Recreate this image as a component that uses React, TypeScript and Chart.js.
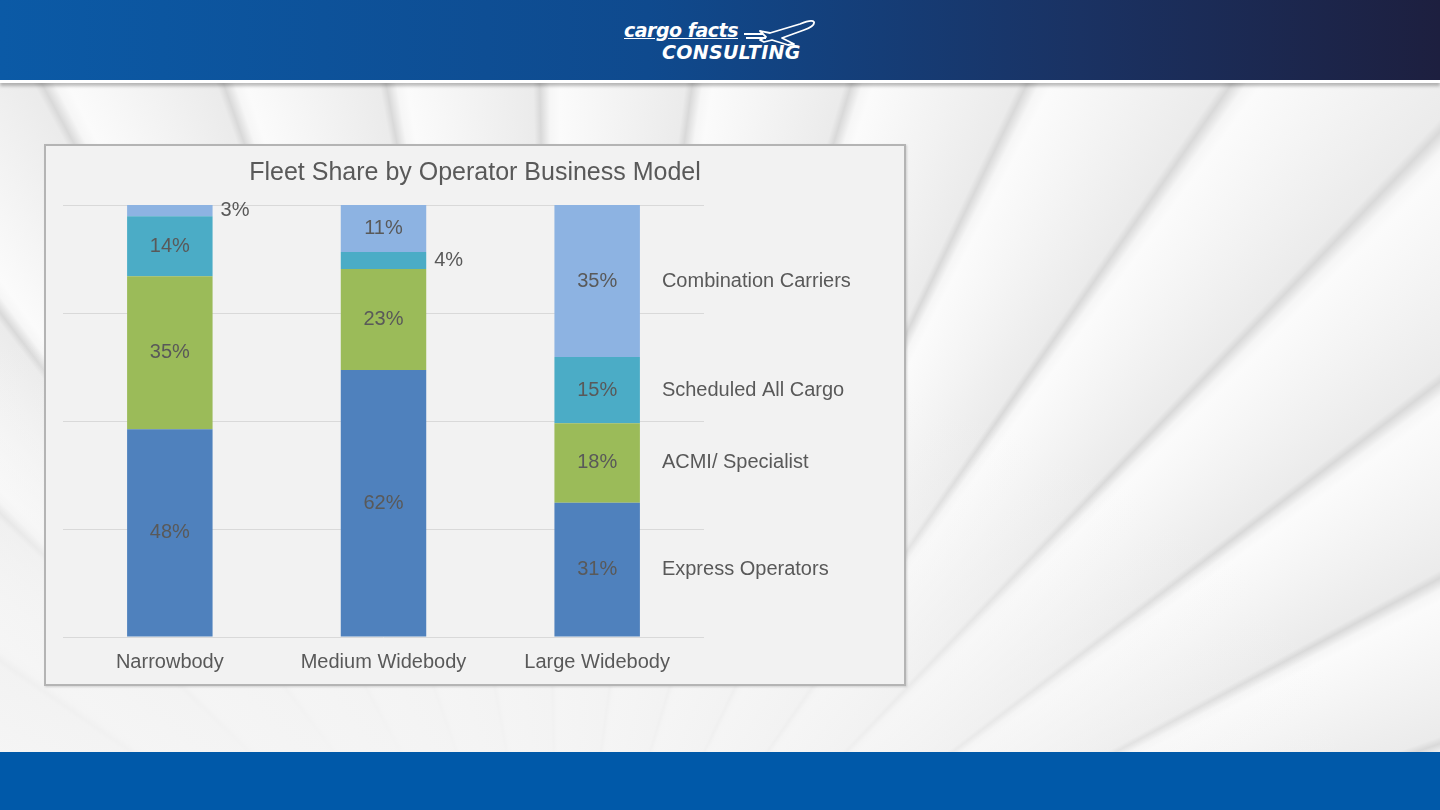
import React, { useEffect, useRef } from "react";
import { Chart, registerables } from "chart.js";

Chart.register(...registerables);

const categories = ["Narrowbody", "Medium Widebody", "Large Widebody"];
const seriesNames = ["Express Operators", "ACMI/ Specialist", "Scheduled All Cargo", "Combination Carriers"];
const expressOperators = [48.1, 61.8, 31.1];
const acmiSpecialist = [35.4, 23.4, 18.4];
const scheduledAllCargo = [13.9, 3.9, 15.3];
const combinationCarriers = [2.6, 10.9, 35.2];
const seriesColors = ["#4f81bd", "#9bbb59", "#4bacc6", "#8db3e2"];
const yTicks = [0, 25, 50, 75, 100];
const chartTitle = "Fleet Share by Operator Business Model";

const TEXT = "#595959";
const FONT = "'Liberation Sans', Arial, sans-serif";

const labelPlugin = {
  id: "segLabels",
  afterDatasetsDraw(chart: any) {
    const ctx = chart.ctx;
    ctx.save();
    ctx.fillStyle = TEXT;
    ctx.textBaseline = "middle";
    // title, centred on the whole chart box
    ctx.font = `25px ${FONT}`;
    ctx.textAlign = "center";
    ctx.fillText(chartTitle, chart.width / 2, 27);
    ctx.font = `20px ${FONT}`;
    const last = chart.data.labels.length - 1;
    chart.data.datasets.forEach((ds: any, di: number) => {
      const meta = chart.getDatasetMeta(di);
      meta.data.forEach((bar: any, i: number) => {
        const v = ds.data[i];
        const cy = (bar.y + bar.base) / 2;
        const txt = Math.round(v) + "%";
        if (v < 6) {
          ctx.textAlign = "left";
          ctx.fillText(txt, bar.x + bar.width / 2 + 8, cy);
        } else {
          ctx.textAlign = "center";
          ctx.fillText(txt, bar.x, cy);
        }
        if (i === last) {
          ctx.textAlign = "left";
          ctx.fillText(ds.label, bar.x + bar.width / 2 + 22, cy);
        }
      });
    });
    ctx.restore();
  },
};

function FleetChart() {
  const ref = useRef<HTMLCanvasElement | null>(null);
  useEffect(() => {
    if (!ref.current) return;
    const values = [expressOperators, acmiSpecialist, scheduledAllCargo, combinationCarriers];
    const chart = new Chart(ref.current, {
      type: "bar",
      data: {
        labels: categories,
        datasets: values.map((d, i) => ({
          label: seriesNames[i],
          data: d,
          backgroundColor: seriesColors[i],
          borderWidth: 0,
          barPercentage: 0.4,
          categoryPercentage: 1,
        })),
      },
      options: {
        responsive: false,
        animation: false,
        maintainAspectRatio: false,
        layout: { padding: { left: 17, right: 200, top: 59, bottom: -3 } },
        plugins: {
          legend: { display: false },
          tooltip: { enabled: false },
          title: { display: false },
        },
        scales: {
          x: {
            stacked: true,
            grid: { display: false, drawTicks: false },
            border: { display: false },
            ticks: { color: TEXT, font: { family: FONT, size: 20 }, padding: 13 },
          },
          y: {
            stacked: true,
            min: 0,
            max: 100,
            afterBuildTicks: (axis: any) => {
              axis.ticks = yTicks.map((v) => ({ value: v }));
            },
            grid: { color: "#d9d9d9", lineWidth: 1, drawTicks: false },
            border: { display: false },
            ticks: { display: false },
          },
        },
      },
      plugins: [labelPlugin],
    });
    return () => chart.destroy();
  }, []);
  return <canvas ref={ref} width={858} height={538} style={{ display: "block", width: 858, height: 538 }} />;
}

export default function App() {
  return (
    <div
      style={{
        position: "fixed",
        left: 0,
        top: 0,
        width: 1440,
        height: 810,
        overflow: "hidden",
        fontFamily: FONT,
        background:
          "repeating-conic-gradient(from -90deg at 560px 1050px, #fbfbfb 0deg, #ebebeb 7.4deg, #d9d9d9 7.8deg, #f6f6f6 8.4deg, #fbfbfb 9deg)",
      }}
    >
      <div
        style={{
          position: "absolute",
          inset: 0,
          background:
            "radial-gradient(ellipse 1000px 480px at 360px 790px, rgba(244,244,244,1) 0%, rgba(244,244,244,0.8) 50%, rgba(244,244,244,0) 100%)",
        }}
      />
      {/* header */}
      <div
        style={{
          position: "absolute",
          left: 0,
          top: 0,
          width: 1440,
          height: 80,
          background: "linear-gradient(90deg, #0b5aa6 0%, #0f4a8e 45%, #1a3263 75%, #1d1f3f 100%)",
          borderBottom: "3px solid #ffffff",
          boxShadow: "0 3px 3px rgba(0,0,0,0.25)",
        }}
      >
        <div
          style={{
            position: "absolute",
            left: 624,
            top: 19,
            color: "#fff",
            fontFamily: "'DejaVu Sans', sans-serif",
            fontStyle: "italic",
            fontWeight: "bold",
            fontSize: 19,
            lineHeight: "22px",
            textDecoration: "underline",
            letterSpacing: -0.5,
          }}
        >
          cargo facts
        </div>
        <div
          style={{
            position: "absolute",
            left: 662,
            top: 41,
            color: "#fff",
            fontFamily: "'DejaVu Sans', sans-serif",
            fontStyle: "italic",
            fontWeight: "bold",
            fontSize: 19,
            lineHeight: "22px",
            letterSpacing: 0.3,
          }}
        >
          CONSULTING
        </div>
        <svg
          style={{ position: "absolute", left: 742, top: 18 }}
          width={76}
          height={30}
          viewBox="0 0 76 30"
        >
          <path
            d="M2 16 L20 16 M4 20 L24 20 M18 13 L28 15 L58 6 Q70 1 72 4 Q73 8 62 12 L40 20 L52 26 L46 27 L30 22 L22 24 L18 22 L24 19 Z"
            fill="none"
            stroke="#fff"
            strokeWidth={1.8}
            strokeLinejoin="round"
          />
        </svg>
      </div>
      {/* chart panel */}
      <div
        style={{
          position: "absolute",
          left: 44,
          top: 144,
          width: 858,
          height: 538,
          background: "#f2f2f2",
          border: "2px solid #b4b4b4",
          boxShadow: "1px 1px 2px rgba(0,0,0,0.15)",
        }}
      >
        <FleetChart />
      </div>
      {/* footer */}
      <div
        style={{
          position: "absolute",
          left: 0,
          top: 752,
          width: 1440,
          height: 58,
          background: "#0059a9",
        }}
      />
    </div>
  );
}
